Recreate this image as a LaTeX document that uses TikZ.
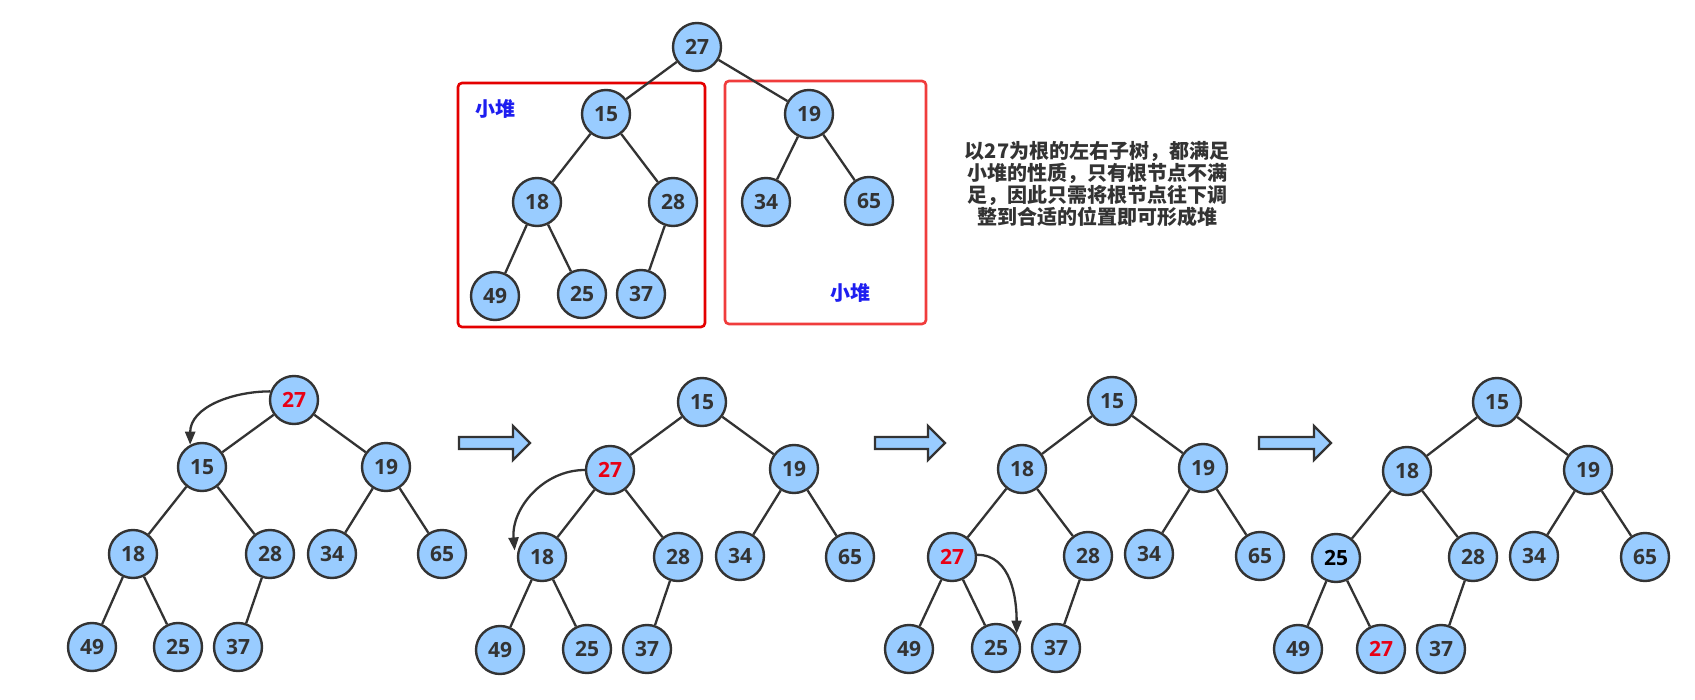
\documentclass[tikz,border=0pt]{standalone}
\usepackage{fontspec}
\setmainfont{Open Sans}
\newfontfamily\cjk{Noto Sans CJK SC}
\usetikzlibrary{arrows.meta}
\definecolor{nodeblue}{RGB}{153,204,255}
\definecolor{ink}{RGB}{51,51,51}
\definecolor{hotred}{RGB}{232,0,20}
\definecolor{boxred}{RGB}{228,0,0}
\definecolor{boxredb}{RGB}{240,60,60}
\definecolor{heapblue}{RGB}{30,30,240}
\tikzset{
  hn/.style={circle, draw=ink, line width=2.4pt, fill=nodeblue, minimum size=48pt,
    inner sep=0pt, text=ink, font=\fontsize{21}{24}\selectfont\bfseries},
  hotnum/.style={text=hotred},
  edge/.style={draw=ink, line width=2.3pt},
  swaparrow/.style={draw=ink, line width=2.3pt, -{Triangle[length=13pt,width=10pt]}},
  bigarrow/.style={draw=ink, line width=2.3pt, fill=nodeblue, line join=miter},
  heapbox/.style={line width=2.6pt, rounded corners=4pt},
  heaplabel/.style={text=heapblue, font=\cjk\fontsize{20}{22}\selectfont\bfseries},
  note/.style={align=center, text=ink, font=\cjk\fontsize{20}{21.7}\selectfont\bfseries}
}
\begin{document}
\begin{tikzpicture}[x=1pt,y=-1pt]
\useasboundingbox (0,0) rectangle (1695,700);
\fill[white] (0,0) rectangle (1695,700);

% ---------- top tree ----------
\draw[heapbox, draw=boxred] (458,83) rectangle (705,327);
\draw[heapbox, draw=boxredb] (725,81) rectangle (926,324);
\node[heaplabel] (lblL) at (495,109) {小堆};
\node[heaplabel] (lblR) at (850,293) {小堆};

\node[hn] (tR) at (697,47) {27};
\node[hn] (tL) at (606,114) {15};
\node[hn] (tRt) at (809,114) {19};
\node[hn] (tLL) at (537,202) {18};
\node[hn] (tLR) at (673,202) {28};
\node[hn] (tRL) at (766,202) {34};
\node[hn] (tRR) at (869,201) {65};
\node[hn] (tLLL) at (495,296) {49};
\node[hn] (tLLR) at (582,294) {25};
\node[hn] (tLRL) at (641,294) {37};

\node[note] (txt) at (1097,184) {以27为根的左右子树，都满足\\小堆的性质，只有根节点不满\\足，因此只需将根节点往下调\\整到合适的位置即可形成堆};

% ---------- tree a ----------
\node[hn, hotnum] (aR) at (294,400) {27};
\node[hn] (aL) at (202,467) {15};
\node[hn] (aRt) at (386,467) {19};
\node[hn] (aLL) at (133,554) {18};
\node[hn] (aLR) at (270,554) {28};
\node[hn] (aRL) at (332,554) {34};
\node[hn] (aRR) at (442,554) {65};
\node[hn] (aLLL) at (92,647) {49};
\node[hn] (aLLR) at (178,647) {25};
\node[hn] (aLRL) at (238,647) {37};

% ---------- tree b ----------
\node[hn] (bR) at (702,402) {15};
\node[hn, hotnum] (bL) at (610,470) {27};
\node[hn] (bRt) at (794,469) {19};
\node[hn] (bLL) at (542,557) {18};
\node[hn] (bLR) at (678,557) {28};
\node[hn] (bRL) at (740,556) {34};
\node[hn] (bRR) at (850,557) {65};
\node[hn] (bLLL) at (500,650) {49};
\node[hn] (bLLR) at (587,649) {25};
\node[hn] (bLRL) at (647,649) {37};

% ---------- tree c ----------
\node[hn] (cR) at (1112,401) {15};
\node[hn] (cL) at (1022,469) {18};
\node[hn] (cRt) at (1203,468) {19};
\node[hn, hotnum] (cLL) at (952,557) {27};
\node[hn] (cLR) at (1088,556) {28};
\node[hn] (cRL) at (1149,554) {34};
\node[hn] (cRR) at (1260,556) {65};
\node[hn] (cLLL) at (909,649) {49};
\node[hn] (cLLR) at (996,648) {25};
\node[hn] (cLRL) at (1056,648) {37};

% ---------- tree d ----------
\node[hn] (dR) at (1497,402) {15};
\node[hn] (dL) at (1407,471) {18};
\node[hn] (dRt) at (1588,470) {19};
\node[hn, text=black] (dLL) at (1336,558) {25};
\node[hn] (dLR) at (1473,557) {28};
\node[hn] (dRL) at (1534,556) {34};
\node[hn] (dRR) at (1645,557) {65};
\node[hn] (dLLL) at (1298,649) {49};
\node[hn, hotnum] (dLLR) at (1381,649) {27};
\node[hn] (dLRL) at (1441,649) {37};

% ---------- edges ----------
\foreach \p in {t,a,b,c,d}{
  \draw[edge] (\p R) -- (\p L);
  \draw[edge] (\p R) -- (\p Rt);
  \draw[edge] (\p L) -- (\p LL);
  \draw[edge] (\p L) -- (\p LR);
  \draw[edge] (\p Rt) -- (\p RL);
  \draw[edge] (\p Rt) -- (\p RR);
  \draw[edge] (\p LL) -- (\p LLL);
  \draw[edge] (\p LL) -- (\p LLR);
  \draw[edge] (\p LR) -- (\p LRL);
}

% ---------- swap arrows ----------
\draw[swaparrow] (aR.160) to[out=180, in=90] (aL.118);
\draw[swaparrow] (bL.180) to[out=180, in=95] ([xshift=-3pt]bLL.165);
\draw[swaparrow] (cLL.5) to[out=0, in=90] (cLLR.35);

% ---------- big arrows ----------
\foreach \xa/\xt in {459/530, 875/945, 1259/1331}{
  \draw[bigarrow] (\xa,437) -- (\xt-17,437) -- (\xt-17,426) -- (\xt,443)
    -- (\xt-17,460) -- (\xt-17,449) -- (\xa,449) -- cycle;
}
\end{tikzpicture}
\end{document}
